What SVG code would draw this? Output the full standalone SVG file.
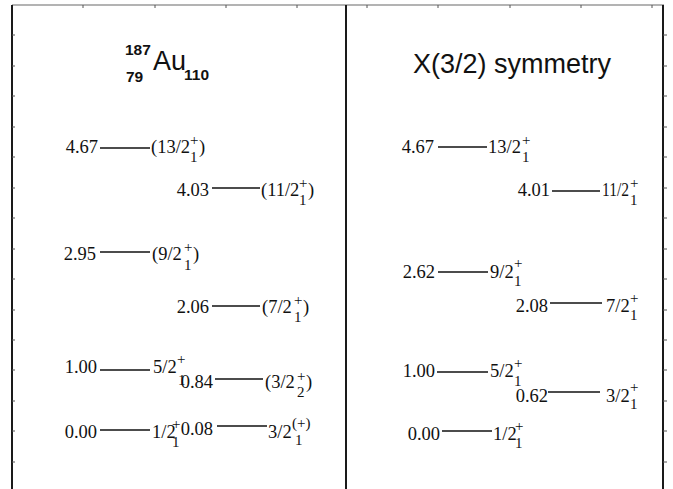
<svg xmlns="http://www.w3.org/2000/svg" width="673" height="489" viewBox="0 0 673 489">
<style>
.frame{stroke:#1a1a1a;stroke-width:2;fill:none}
.top{stroke:#9a9a9a;stroke-width:1.5;fill:none}
.tick{stroke:#555;stroke-width:1}
.lvl{stroke:#111;stroke-width:1.3}
.n{font-family:"Liberation Serif","Times New Roman",serif;font-size:18.5px;fill:#111}
.e{text-anchor:end}
.s{font-family:"Liberation Serif","Times New Roman",serif;font-size:15px;fill:#111}
.t{font-family:"Liberation Sans",Arial,sans-serif;fill:#111}
.b{font-family:"Liberation Sans",Arial,sans-serif;font-weight:bold;font-size:15.5px;fill:#111}
</style>
<rect width="673" height="489" fill="#fff"/>
<g id="frame">
<line class="top" x1="12" y1="5" x2="664" y2="5"/>
<line class="frame" x1="12" y1="5" x2="12" y2="489"/>
<line class="frame" x1="346" y1="5" x2="346" y2="489"/>
<line class="frame" x1="663" y1="5" x2="663" y2="489"/>
<g class="tick">
<line x1="83" y1="5" x2="83" y2="8"/><line x1="155" y1="5" x2="155" y2="8"/><line x1="226" y1="5" x2="226" y2="8"/><line x1="297" y1="5" x2="297" y2="8"/><line x1="367" y1="5" x2="367" y2="8"/><line x1="438" y1="5" x2="438" y2="8"/><line x1="510" y1="5" x2="510" y2="8"/><line x1="581" y1="5" x2="581" y2="8"/><line x1="652" y1="5" x2="652" y2="8"/>
<line x1="12" y1="35" x2="15" y2="35"/><line x1="12" y1="66" x2="15" y2="66"/><line x1="12" y1="96" x2="15" y2="96"/><line x1="12" y1="127" x2="15" y2="127"/><line x1="12" y1="157" x2="15" y2="157"/><line x1="12" y1="188" x2="15" y2="188"/><line x1="12" y1="218" x2="15" y2="218"/><line x1="12" y1="249" x2="15" y2="249"/><line x1="12" y1="279" x2="15" y2="279"/><line x1="12" y1="310" x2="15" y2="310"/><line x1="12" y1="340" x2="15" y2="340"/><line x1="12" y1="370" x2="15" y2="370"/><line x1="12" y1="401" x2="15" y2="401"/><line x1="12" y1="431" x2="15" y2="431"/><line x1="12" y1="462" x2="15" y2="462"/>
<line x1="663" y1="35" x2="667" y2="35"/><line x1="663" y1="66" x2="667" y2="66"/><line x1="663" y1="96" x2="667" y2="96"/><line x1="663" y1="127" x2="667" y2="127"/><line x1="663" y1="157" x2="667" y2="157"/><line x1="663" y1="188" x2="667" y2="188"/><line x1="663" y1="218" x2="667" y2="218"/><line x1="663" y1="249" x2="667" y2="249"/><line x1="663" y1="279" x2="667" y2="279"/><line x1="663" y1="310" x2="667" y2="310"/><line x1="663" y1="340" x2="667" y2="340"/><line x1="663" y1="370" x2="667" y2="370"/><line x1="663" y1="401" x2="667" y2="401"/><line x1="663" y1="431" x2="667" y2="431"/><line x1="663" y1="462" x2="667" y2="462"/>
</g>
</g>
<g id="title-left">
<text class="b" x="125" y="55">187</text>
<text class="b" x="126" y="82">79</text>
<text class="t" x="153" y="70" font-size="27">Au</text>
<text class="b" x="184" y="80">110</text>
</g>
<g id="title-right">
<text class="t" x="413" y="73" font-size="27">X(3/2) symmetry</text>
</g>
<g id="connectors"></g>
<g id="L-13-2">
<text class="n e" x="98" y="153">4.67</text><line class="lvl" x1="100" y1="148" x2="150" y2="148"/>
<text class="n" x="151" y="153">(13/2</text><text class="s" x="190" y="145">+</text><text class="s" x="190" y="162">1</text><text class="n" x="199" y="153">)</text>
</g>
<g id="L-11-2">
<text class="n e" x="209" y="196">4.03</text><line class="lvl" x1="212" y1="188" x2="260" y2="188"/>
<text class="n" x="261" y="196">(11/2</text><text class="s" x="299" y="188">+</text><text class="s" x="299" y="205">1</text><text class="n" x="308" y="196">)</text>
</g>
<g id="L-9-2">
<text class="n e" x="96" y="260">2.95</text><line class="lvl" x1="100" y1="252" x2="150" y2="252"/>
<text class="n" x="152" y="260">(9/2</text><text class="s" x="184" y="252">+</text><text class="s" x="184" y="270">1</text><text class="n" x="193" y="260">)</text>
</g>
<g id="L-7-2">
<text class="n e" x="209" y="313">2.06</text><line class="lvl" x1="212" y1="306" x2="260" y2="306"/>
<text class="n" x="262" y="313">(7/2</text><text class="s" x="294" y="305">+</text><text class="s" x="294" y="322">1</text><text class="n" x="303" y="313">)</text>
</g>
<g id="L-5-2">
<text class="n e" x="97" y="373">1.00</text><line class="lvl" x1="100" y1="370" x2="150" y2="370"/>
<text class="n" x="153" y="373">5/2</text><text class="s" x="177" y="364">+</text><text class="s" x="178" y="385">1</text>
</g>
<g id="L-3-2b">
<text class="n e" x="213" y="388">0.84</text><line class="lvl" x1="215" y1="379" x2="263" y2="379"/>
<text class="n" x="265" y="388">(3/2</text><text class="s" x="297" y="381">+</text><text class="s" x="297" y="397">2</text><text class="n" x="306" y="388">)</text>
</g>
<g id="L-1-2">
<text class="n e" x="97" y="438">0.00</text><line class="lvl" x1="100" y1="430" x2="150" y2="430"/>
<text class="n" x="152" y="438">1/2</text><text class="s" x="172" y="429">+</text><text class="s" x="172" y="447">1</text>
</g>
<g id="L-3-2a">
<text class="n e" x="213" y="435">0.08</text><line class="lvl" x1="217" y1="426" x2="267" y2="426"/>
<text class="n" x="268" y="438">3/2</text><text class="s" x="292" y="428">(+)</text><text class="s" x="295" y="445">1</text>
</g>
<g id="R-13-2">
<text class="n e" x="434" y="153">4.67</text><line class="lvl" x1="438" y1="147" x2="487" y2="147"/>
<text class="n" x="488" y="153">13/2</text><text class="s" x="522" y="145">+</text><text class="s" x="522" y="162">1</text>
</g>
<g id="R-11-2">
<text class="n e" x="550" y="196">4.01</text><line class="lvl" x1="552" y1="191" x2="600" y2="191"/>
<text class="n" x="602" y="196" textLength="27" lengthAdjust="spacingAndGlyphs">11/2</text><text class="s" x="630" y="188">+</text><text class="s" x="630" y="205">1</text>
</g>
<g id="R-9-2">
<text class="n e" x="435" y="278">2.62</text><line class="lvl" x1="438" y1="272" x2="488" y2="272"/>
<text class="n" x="490" y="278">9/2</text><text class="s" x="514" y="268">+</text><text class="s" x="514" y="286">1</text>
</g>
<g id="R-7-2">
<text class="n e" x="548" y="312">2.08</text><line class="lvl" x1="550" y1="303" x2="602" y2="303"/>
<text class="n" x="606" y="312">7/2</text><text class="s" x="630" y="303">+</text><text class="s" x="630" y="320">1</text>
</g>
<g id="R-5-2">
<text class="n e" x="435" y="377">1.00</text><line class="lvl" x1="437" y1="372" x2="488" y2="372"/>
<text class="n" x="490" y="377">5/2</text><text class="s" x="514" y="368">+</text><text class="s" x="514" y="386">1</text>
</g>
<g id="R-3-2">
<text class="n e" x="548" y="402">0.62</text><line class="lvl" x1="548" y1="392" x2="600" y2="392"/>
<text class="n" x="606" y="402">3/2</text><text class="s" x="630" y="392">+</text><text class="s" x="630" y="409">1</text>
</g>
<g id="R-1-2">
<text class="n e" x="440" y="440">0.00</text><line class="lvl" x1="442" y1="431" x2="492" y2="431"/>
<text class="n" x="493" y="440">1/2</text><text class="s" x="515" y="431">+</text><text class="s" x="515" y="448">1</text>
</g>
</svg>
